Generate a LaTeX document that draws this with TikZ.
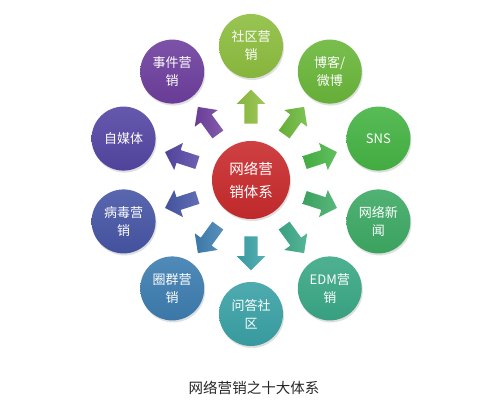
\documentclass[tikz,border=0pt]{standalone}
\usepackage{fontspec}
\newfontfamily\cjk{Noto Sans CJK SC}
\usetikzlibrary{shapes.arrows}
\usetikzlibrary{shadows}

\definecolor{hubred}{HTML}{C92B2D}
\definecolor{shequ}{HTML}{8DBE3F}
\definecolor{boke}{HTML}{6AB73A}
\definecolor{sns}{HTML}{45B444}
\definecolor{xinwen}{HTML}{3DAA64}
\definecolor{edm}{HTML}{3AA886}
\definecolor{wenda}{HTML}{3AA2A6}
\definecolor{quanqun}{HTML}{3D7DB0}
\definecolor{bingdu}{HTML}{4756A6}
\definecolor{zimeiti}{HTML}{5446A3}
\definecolor{shijian}{HTML}{6E3F9E}

\begin{document}
\begin{tikzpicture}[x=1pt,y=1pt,
        topic node/.style={circle,minimum size=64pt,inner sep=0pt,align=center,text=white,
                           font=\cjk\fontsize{13}{18}\selectfont,
                           top color=#1!90!white,bottom color=#1!95!black,
                           drop shadow={opacity=0.25,shadow xshift=1pt,shadow yshift=-2pt}},
        push arrow/.style={single arrow,minimum height=34pt,minimum width=0pt,
                           inner xsep=0pt,inner ysep=6.5pt,
                           single arrow head extend=7.5pt,
                           left color=#1!95!black,right color=#1!85!white}]

        \fill[white] (-251,-220) rectangle (249,180);
        \useasboundingbox (-251,-220) rectangle (249,180);

        \node[topic node=hubred,minimum size=78pt,font=\cjk\fontsize{14.5}{23}\selectfont]
            (hub) at (0,0) {网络营\\销体系};

        \node[topic node=shequ] (shequ) at (90:134) {社区营\\销};
        \node[topic node=boke] (boke) at (54:134) {博客/\\微博};
        \node[topic node=sns] (sns) at (18:134) {SNS};
        \node[topic node=xinwen] (xinwen) at (-18:134) {网络新\\闻};
        \node[topic node=edm] (edm) at (-54:134) {EDM营\\销};
        \node[topic node=wenda] (wenda) at (-90:134) {问答社\\区};
        \node[topic node=quanqun] (quanqun) at (-126:134) {圈群营\\销};
        \node[topic node=bingdu] (bingdu) at (-162:134) {病毒营\\销};
        \node[topic node=zimeiti] (zimeiti) at (162:134) {自媒体};
        \node[topic node=shijian] (shijian) at (126:134) {事件营\\销};

        % block arrows from the hub outwards
        \node[push arrow=shequ,rotate=90] (toshequ) at (90:70) {};
        \node[push arrow=boke,rotate=54] (toboke) at (54:70) {};
        \node[push arrow=sns,rotate=18] (tosns) at (18:70) {};
        \node[push arrow=xinwen,rotate=-18] (toxinwen) at (-18:70) {};
        \node[push arrow=edm,rotate=-54] (toedm) at (-54:70) {};
        \node[push arrow=wenda,rotate=-90] (towenda) at (-90:70) {};
        \node[push arrow=quanqun,rotate=-126] (toquanqun) at (-126:70) {};
        \node[push arrow=bingdu,rotate=-162] (tobingdu) at (-162:70) {};
        \node[push arrow=zimeiti,rotate=162] (tozimeiti) at (162:70) {};
        \node[push arrow=shijian,rotate=126] (toshijian) at (126:70) {};

        \node[font=\cjk\fontsize{14.5}{17}\selectfont,text=black!85] (caption) at (3,-208) {网络营销之十大体系};
    \end{tikzpicture}
\end{document}
